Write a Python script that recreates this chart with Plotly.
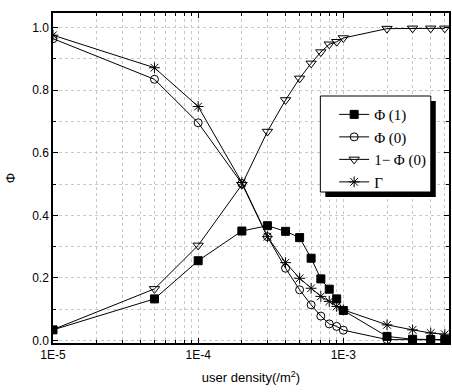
import plotly.graph_objects as go

density = [1e-5, 5e-5, 1e-4, 2e-4, 3e-4, 4e-4, 5e-4, 6e-4, 7e-4, 8e-4, 9e-4, 1e-3, 2e-3, 3e-3, 4e-3, 5e-3]
phi1 = [0.034, 0.133, 0.255, 0.350, 0.367, 0.349, 0.329, 0.263, 0.197, 0.164, 0.133, 0.096, 0.013, 0.004, 0.003, 0.003]
phi0 = [0.965, 0.835, 0.696, 0.502, 0.332, 0.231, 0.162, 0.114, 0.078, 0.053, 0.045, 0.033, 0.003, 0.002, 0.002, 0.002]
one_minus_phi0 = [0.035, 0.165, 0.304, 0.498, 0.668, 0.769, 0.838, 0.886, 0.922, 0.947, 0.955, 0.967, 0.997, 0.998, 0.998, 0.998]
gamma = [0.976, 0.872, 0.748, 0.505, 0.332, 0.249, 0.199, 0.167, 0.141, 0.125, 0.109, 0.098, 0.050, 0.034, 0.024, 0.020]

x_tickvals = [1e-5, 1e-4, 1e-3]
x_ticktext = ["1E-5", "1E-4", "1E-3"]
x_minorvals = [m * d for d in (1e-5, 1e-4, 1e-3) for m in range(2, 10)]
y_tickvals = [0.0, 0.2, 0.4, 0.6, 0.8, 1.0]
y_minorvals = [0.1, 0.3, 0.5, 0.7, 0.9]

series = [
    ("\u03a6 (1)", phi1, dict(symbol="square", size=8, color="black", line=dict(color="black", width=1))),
    ("\u03a6 (0)", phi0, dict(symbol="circle-open", size=8, color="black", line=dict(color="black", width=1))),
    ("1\u2212 \u03a6 (0)", one_minus_phi0, dict(symbol="triangle-down-open", size=9, color="black", line=dict(color="black", width=1))),
    ("\u0393", gamma, dict(symbol="asterisk-open", size=9, color="black", line=dict(color="black", width=1))),
]

fig = go.Figure()
for name, vals, mk in series:
    fig.add_trace(go.Scatter(x=density, y=vals, mode="lines+markers", name=name,
                             line=dict(color="black", width=1), marker=mk))

grid_col = "#c8c8c8"
fig.update_layout(
    width=452, height=392,
    margin=dict(l=53, r=1, t=13, b=49),
    paper_bgcolor="white", plot_bgcolor="white",
    font=dict(family="Liberation Sans, Arial, sans-serif", size=12, color="black"),
    showlegend=True,
    legend=dict(x=0.71, y=0.742, xanchor="left", yanchor="top",
                bgcolor="rgba(0,0,0,0)", borderwidth=0,
                font=dict(family="Liberation Serif", size=15, color="black"),
                tracegroupgap=0, itemwidth=30),
    xaxis=dict(type="log", range=[-5, -2.272],
               tickmode="array", tickvals=x_tickvals, ticktext=x_ticktext,
               ticks="inside", ticklen=5, tickcolor="black", mirror="ticks",
               showline=True, linecolor="black", linewidth=1.5,
               showgrid=True, gridcolor=grid_col, griddash="dot", gridwidth=1,
               minor=dict(tickmode="array", tickvals=x_minorvals, showgrid=True, gridcolor=grid_col,
                          griddash="dot", ticks="inside", ticklen=3, tickcolor="black"),
               zeroline=False,
               title=dict(text="user density(/m<sup>2</sup>)", font=dict(size=13), standoff=12)),
    yaxis=dict(range=[-0.008, 1.047], tickmode="array", tickvals=y_tickvals, tickformat=".1f",
               ticks="inside", ticklen=5, tickcolor="black", mirror="ticks",
               showline=True, linecolor="black", linewidth=1.5,
               showgrid=True, gridcolor=grid_col, griddash="dot", gridwidth=1,
               minor=dict(tickmode="array", tickvals=y_minorvals, showgrid=True, gridcolor=grid_col,
                          griddash="dot", ticks="inside", ticklen=3, tickcolor="black"),
               zeroline=False,
               title=dict(text="\u03a6", font=dict(size=13), standoff=14)),
)

# legend box with drop shadow
x0, x1 = (321.7 - 53) / 398, (432.7 - 53) / 398
y0, y1 = (343 - 192) / 330, (343 - 96) / 330
dx, dy = 5 / 398, 5 / 330
fig.add_shape(type="rect", xref="paper", yref="paper", x0=x0 + dx, x1=x1 + dx, y0=y0 - dy, y1=y1 - dy,
              fillcolor="black", line=dict(width=0), layer="above")
fig.add_shape(type="rect", xref="paper", yref="paper", x0=x0, x1=x1, y0=y0, y1=y1,
              fillcolor="white", line=dict(color="black", width=1), layer="above")

fig.write_html("out.html")
